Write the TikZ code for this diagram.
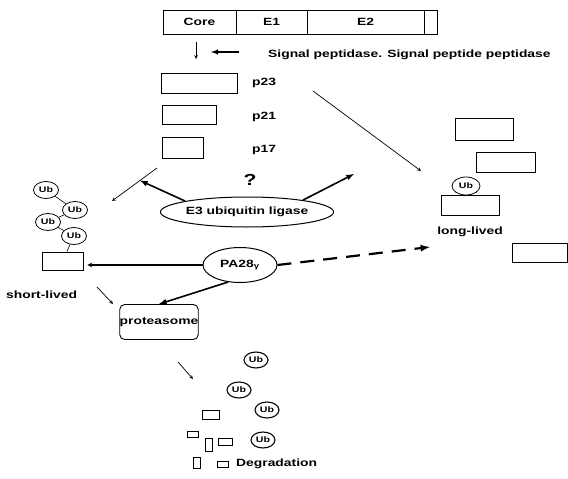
\documentclass[tikz,border=0pt]{standalone}
\usepackage{fontspec}
\setmainfont{Liberation Sans}[FakeStretch=1.32]
\usepackage{tikz}
\usetikzlibrary{arrows,positioning,shapes.geometric}

\tikzset{
  lab/.style={font=\fontsize{10.5}{12}\selectfont\bfseries, inner sep=0pt},
  pbox/.style={draw, line width=0.7pt, inner sep=0pt},
  ubc/.style={draw, ellipse, line width=0.8pt, minimum width=25pt, minimum height=17pt,
    inner sep=0pt, font=\fontsize{8}{9}\selectfont\bfseries},
  thickarr/.style={-latex, line width=1.6pt},
  thinarr/.style={-stealth, line width=0.7pt},
}

\begin{document}
\begin{tikzpicture} [ x=1pt, y=-1pt, ]
    \useasboundingbox (0,0) rectangle (568,479);

    % precursor polyprotein
    \node[pbox, minimum width=73pt, minimum height=24pt, outer sep=0pt, lab] (core) at (199.5,22) {Core};
    \node[pbox, minimum width=71pt, minimum height=24pt, outer sep=0pt, lab, right=0pt of core] (e1) {E1};
    \node[pbox, minimum width=117pt, minimum height=24pt, outer sep=0pt, lab, right=0pt of e1] (e2) {E2};
    \node[pbox, minimum width=13pt, minimum height=24pt, outer sep=0pt, right=0pt of e2] (tail) {};

    \coordinate (cut1) at (196,42);
    \coordinate (cut2) at (196,59);
    \draw[thinarr] (cut1) -- (cut2);
    \node[lab, anchor=west] (spp) at (268,55) {Signal peptidase. Signal peptide peptidase};
    \coordinate (sp1) at (239,52);
    \coordinate (sp2) at (211,52);
    \draw[thickarr, line width=1.4pt] (sp1) -- (sp2);

    % core forms
    \node[pbox, minimum width=76pt, minimum height=20pt] (p23) at (199,83) {};
    \node[pbox, minimum width=54pt, minimum height=19pt] (p21) at (189,114.5) {};
    \node[pbox, minimum width=41pt, minimum height=21pt] (p17) at (182.5,147.5) {};
    \node[lab, anchor=west] (p23l) at (252,83) {p23};
    \node[lab, anchor=west] (p21l) at (252,117) {p21};
    \node[lab, anchor=west] (p17l) at (252,150) {p17};

    % ligase
    \node[draw, ellipse, line width=1pt, minimum width=145pt, minimum height=30pt, inner sep=0pt, lab] (e3) at (247,212) {E3 ubiquitin ligase};
    \node[font=\fontsize{16}{18}\selectfont\bfseries] (qm) at (250,180) {?};
    \coordinate (ub1) at (157,168);
    \coordinate (ub2) at (112,201);
    \draw[thinarr] (ub1) -- (ub2);
    \coordinate (e3l) at (140,180.5);
    \draw[thickarr] (e3.170) -- (e3l);
    \coordinate (e3r) at (354,174);
    \draw[thickarr] (e3.12) -- (e3r);
    \coordinate (lv1) at (313,91);
    \coordinate (lv2) at (421,171);
    \draw[thinarr] (lv1) -- (lv2);

    % short-lived
    \node[ubc] (ua) at (46,190) {Ub};
    \node[ubc] (ub) at (75,210) {Ub};
    \node[ubc] (uc) at (48,222) {Ub};
    \node[ubc] (ud) at (74,236) {Ub};
    \node[pbox, minimum width=41pt, minimum height=18pt] (srect) at (62.5,261) {};
    \draw[line width=0.6pt] (ua) -- (ub) (ub) -- (uc) (uc) -- (ud) (ud) -- (srect);
    \node[lab, anchor=west] (short) at (6,295) {short-lived};

    % activator
    \node[draw, ellipse, line width=1pt, minimum width=74pt, minimum height=35pt, inner sep=0pt, lab] (pa) at (240,265) {PA28\textsubscript{γ}};
    \draw[-stealth, line width=1.2pt, shorten >=4pt] (pa.west) -- (srect.east |- pa.west);
    \coordinate (sh1) at (97,287);
    \coordinate (sh2) at (113,304);
    \draw[thinarr] (sh1) -- (sh2);
    \node[draw, rounded corners=5pt, line width=0.9pt, minimum width=78pt, minimum height=35pt, inner sep=0pt, lab] (prot) at (159,322) {proteasome};
    \draw[thickarr] (pa.235) -- (prot.north);
    \coordinate (lv3) at (430,247);
    \draw[thickarr, dash pattern=on 14pt off 9pt, line width=2.2pt] (pa.east) -- (lv3);

    % long-lived
    \node[pbox, minimum width=58pt, minimum height=22pt] (r1) at (484,129) {};
    \node[pbox, minimum width=59pt, minimum height=20pt] (r2) at (505.5,162) {};
    \node[pbox, minimum width=58pt, minimum height=20pt] (r3) at (470,205) {};
    \node[ubc, minimum width=28pt, minimum height=18pt] (ur) at (466,186) {Ub};
    \node[lab] (long) at (470,232) {long-lived};
    \node[pbox, minimum width=55pt, minimum height=19pt] (r4) at (539.5,252.5) {};

    % degradation
    \coordinate (dg1) at (178,362);
    \coordinate (dg2) at (193,379);
    \draw[thinarr] (dg1) -- (dg2);
    \node[ubc, line width=1.1pt, minimum width=24pt, minimum height=16pt] (d1) at (256,360) {Ub};
    \node[ubc, line width=1.1pt, minimum width=24pt, minimum height=16pt] (d2) at (239,390) {Ub};
    \node[ubc, line width=1.1pt, minimum width=24pt, minimum height=16pt] (d3) at (267,410) {Ub};
    \node[ubc, line width=1.1pt, minimum width=24pt, minimum height=16pt] (d4) at (263,440) {Ub};
    \draw[line width=0.8pt] (202,410) rectangle (219,419)
      (187,431) rectangle (198,437)
      (205,438) rectangle (212,451)
      (218,438) rectangle (232,445)
      (193,457) rectangle (200,468)
      (217,461) rectangle (228,467);
    \node[lab, anchor=west] (degr) at (236,464) {Degradation};

\end{tikzpicture}
\end{document}
